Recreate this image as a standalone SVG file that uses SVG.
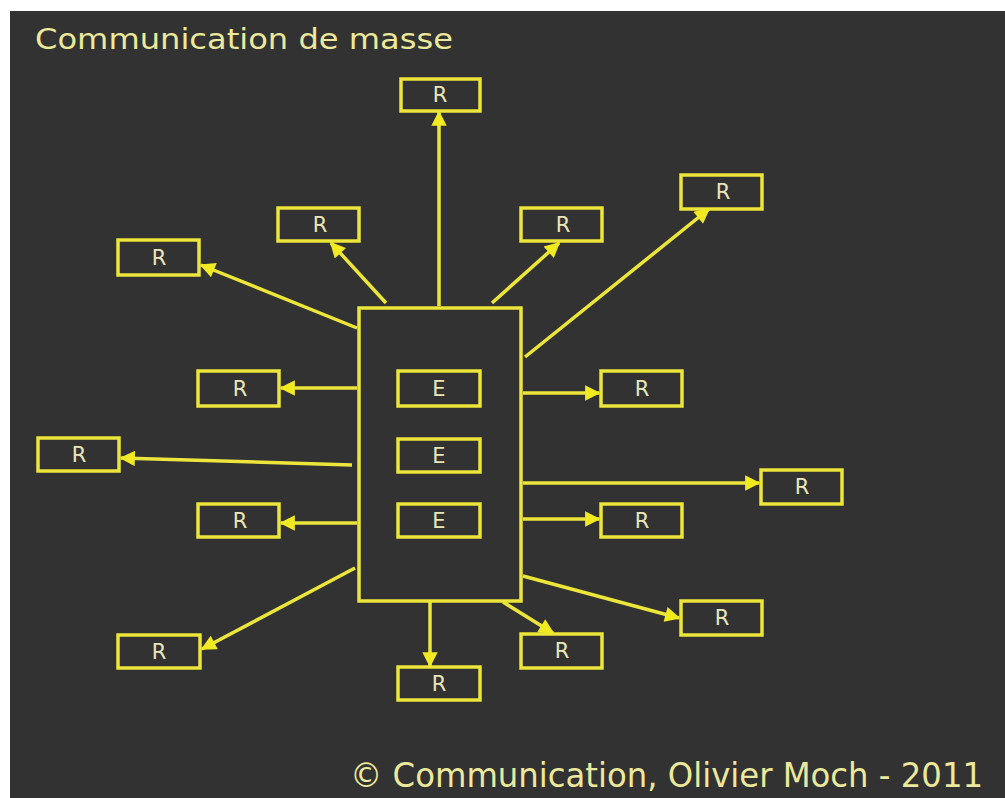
<svg xmlns="http://www.w3.org/2000/svg" width="1005" height="798" viewBox="0 0 1005 798">
<style>
.box{fill:none;stroke:#ece63a;stroke-width:3.5}
.lbl{font-family:"DejaVu Sans",Verdana,sans-serif;font-size:21px;fill:#e9e6b8;text-anchor:middle}
.con{stroke:#ece63a;stroke-width:3.5;fill:none;marker-end:url(#ah)}
.ttl{font-family:"DejaVu Sans",Verdana,sans-serif;fill:#ece99c}
</style>
<defs>
<marker id="ah" viewBox="0 0 10 10" refX="9" refY="5" markerWidth="5" markerHeight="4.4" markerUnits="strokeWidth" orient="auto">
<path d="M0,0 L10,5 L0,10 z" fill="#f2ea20"/>
</marker>
</defs>
<rect x="0" y="0" width="1005" height="798" fill="#ffffff"/>
<rect x="10" y="11" width="995" height="787" fill="#323232"/>
<text class="ttl" x="35" y="49" font-size="28" textLength="418" lengthAdjust="spacingAndGlyphs">Communication de masse</text>
<text class="ttl" x="350" y="787" font-size="33" textLength="633" lengthAdjust="spacingAndGlyphs">© Communication, Olivier Moch - 2011</text>

<g id="emitter">
<rect class="box" x="359" y="308" width="162" height="293"/>
</g>
<g id="e1"><rect class="box" x="398" y="371" width="82" height="35"/><text class="lbl" x="439" y="396">E</text></g>
<g id="e2"><rect class="box" x="398" y="439" width="82" height="33"/><text class="lbl" x="439" y="463">E</text></g>
<g id="e3"><rect class="box" x="398" y="504" width="82" height="33"/><text class="lbl" x="439" y="528">E</text></g>

<g id="r-top"><rect class="box" x="401" y="79" width="79" height="32"/><text class="lbl" x="440" y="102">R</text></g>
<g id="r-tl"><rect class="box" x="278" y="208" width="81" height="33"/><text class="lbl" x="320" y="232">R</text></g>
<g id="r-tr"><rect class="box" x="521" y="208" width="81" height="33"/><text class="lbl" x="563" y="232">R</text></g>
<g id="r-far-tr"><rect class="box" x="681" y="175" width="81" height="34"/><text class="lbl" x="723" y="199">R</text></g>
<g id="r-far-tl"><rect class="box" x="118" y="240" width="81" height="35"/><text class="lbl" x="159" y="265">R</text></g>
<g id="r-l1"><rect class="box" x="198" y="371" width="81" height="35"/><text class="lbl" x="240" y="396">R</text></g>
<g id="r-far-l"><rect class="box" x="38" y="438" width="81" height="33"/><text class="lbl" x="79" y="462">R</text></g>
<g id="r-l2"><rect class="box" x="198" y="504" width="81" height="33"/><text class="lbl" x="240" y="528">R</text></g>
<g id="r-bl"><rect class="box" x="118" y="635" width="82" height="33"/><text class="lbl" x="159" y="659">R</text></g>
<g id="r-r1"><rect class="box" x="601" y="371" width="81" height="35"/><text class="lbl" x="642" y="396">R</text></g>
<g id="r-far-r"><rect class="box" x="761" y="470" width="81" height="34"/><text class="lbl" x="802" y="494">R</text></g>
<g id="r-r2"><rect class="box" x="601" y="504" width="81" height="33"/><text class="lbl" x="642" y="528">R</text></g>
<g id="r-br"><rect class="box" x="681" y="601" width="81" height="34"/><text class="lbl" x="722" y="625">R</text></g>
<g id="r-bmr"><rect class="box" x="521" y="634" width="81" height="34"/><text class="lbl" x="562" y="658">R</text></g>
<g id="r-bottom"><rect class="box" x="398" y="667" width="82" height="33"/><text class="lbl" x="439" y="691">R</text></g>

<g id="connectors">
<line class="con" x1="439" y1="306" x2="439" y2="112"/>
<line class="con" x1="386" y1="303" x2="331" y2="243"/>
<line class="con" x1="492" y1="303" x2="559" y2="243"/>
<line class="con" x1="525" y1="357" x2="709" y2="209"/>
<line class="con" x1="357" y1="328" x2="201" y2="265"/>
<line class="con" x1="357" y1="388" x2="281" y2="388"/>
<line class="con" x1="352" y1="465" x2="121" y2="458"/>
<line class="con" x1="357" y1="523" x2="281" y2="523"/>
<line class="con" x1="355" y1="568" x2="202" y2="649"/>
<line class="con" x1="523" y1="393" x2="599" y2="393"/>
<line class="con" x1="523" y1="483" x2="759" y2="483"/>
<line class="con" x1="523" y1="519" x2="599" y2="519"/>
<line class="con" x1="523" y1="576" x2="679" y2="618"/>
<line class="con" x1="503" y1="602" x2="553" y2="633"/>
<line class="con" x1="430" y1="602" x2="430" y2="666"/>
</g>
</svg>
